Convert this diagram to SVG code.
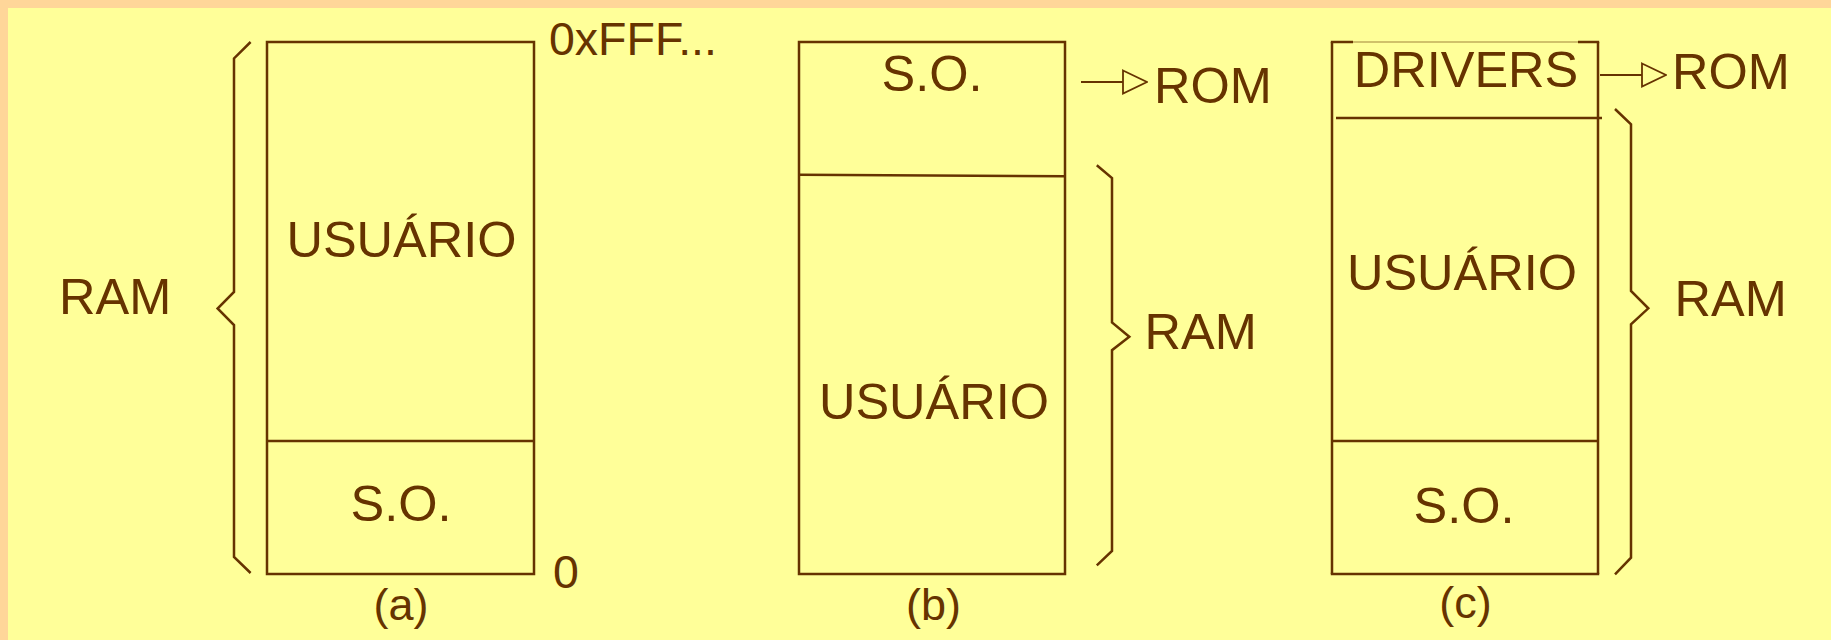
<svg xmlns="http://www.w3.org/2000/svg" width="1831" height="640" viewBox="0 0 1831 640">
<style>
  .bg-frame { fill: #FFD699; }
  .bg { fill: #FFFF99; }
  .box { fill: none; stroke: #663300; stroke-width: 2.5; }
  .thin { fill: none; stroke: #663300; stroke-width: 1.2; stroke-opacity: 0.6; }
  .brace { fill: none; stroke: #663300; stroke-width: 2.5; stroke-linejoin: miter; }
  .conn { fill: none; stroke: #663300; stroke-width: 2; }
  text { font-family: "Liberation Sans", Arial, sans-serif; fill: #663300; }
  .lbl { font-size: 50.5px; text-anchor: middle; }
  .side { font-size: 50.5px; }
  .addr { font-size: 46.5px; }
  .cap { font-size: 45px; text-anchor: middle; }
</style>
<defs>
  <marker id="tri" viewBox="0 0 26 26" markerWidth="26" markerHeight="26" refX="25" refY="13" markerUnits="userSpaceOnUse" orient="auto">
    <path d="M1,1.5 L25,13 L1,24.5 Z" fill="#FFFF99" stroke="#663300" stroke-width="1.8"/>
  </marker>
</defs>
<rect class="bg-frame" x="0" y="0" width="1831" height="640"/>
<rect class="bg" x="8" y="8" width="1823" height="632"/>

<g id="layout-a">
  <rect class="box" x="267" y="42" width="267" height="532"/>
  <line class="box" x1="267" y1="441" x2="534" y2="441"/>
  <text class="lbl" x="401.5" y="256.5">USUÁRIO</text>
  <text class="lbl" x="401" y="520.5">S.O.</text>
  <path class="brace" d="M250.6,42 L234,58.4 L234,292 L217.6,308.5 L234,325 L234,557 L250.6,573"/>
  <text class="side" x="59" y="314">RAM</text>
  <text class="addr" x="549" y="55">0xFFF...</text>
  <text class="addr" x="553" y="588">0</text>
  <text class="cap" x="401" y="620">(a)</text>
</g>

<g id="layout-b">
  <rect class="box" x="799" y="42" width="266" height="532"/>
  <line class="box" x1="799" y1="174.7" x2="1065" y2="176.3"/>
  <text class="lbl" x="932" y="90.6">S.O.</text>
  <text class="lbl" x="934" y="419">USUÁRIO</text>
  <path class="brace" d="M1096.8,165.3 L1112,178 L1112,322.5 L1129.3,336.7 L1112,350.2 L1112,551 L1096.8,565.3"/>
  <text class="side" x="1154" y="103">ROM</text>
  <text class="side" x="1144.5" y="349">RAM</text>
  <text class="cap" x="933.5" y="620">(b)</text>
</g>

<g id="layout-c">
  <line class="box" x1="1332" y1="42" x2="1332" y2="574"/>
  <line class="box" x1="1598" y1="42" x2="1598" y2="574"/>
  <line class="box" x1="1330.8" y1="574" x2="1599.2" y2="574"/>
  <line class="box" x1="1330.8" y1="42" x2="1353" y2="42"/>
  <line class="thin" x1="1353" y1="42" x2="1578" y2="42"/>
  <line class="box" x1="1578" y1="42" x2="1599.2" y2="42"/>
  <line class="box" x1="1336" y1="118" x2="1602" y2="118"/>
  <line class="box" x1="1332" y1="441" x2="1598" y2="441"/>
  <text class="lbl" x="1466" y="87.3">DRIVERS</text>
  <text class="lbl" x="1462" y="290">USUÁRIO</text>
  <text class="lbl" x="1464" y="522.5">S.O.</text>
  <path class="brace" d="M1615,109 L1631,124.3 L1631,291 L1648.3,308.3 L1631,324.3 L1631,557.7 L1615,574.3"/>
  <text class="side" x="1672" y="89.3">ROM</text>
  <text class="side" x="1674.5" y="316.3">RAM</text>
  <text class="cap" x="1465.4" y="618">(c)</text>
</g>

<g id="connectors">
  <line class="conn" x1="1081" y1="82" x2="1147" y2="82" marker-end="url(#tri)"/>
  <line class="conn" x1="1600" y1="75" x2="1666" y2="75" marker-end="url(#tri)"/>
</g>
</svg>
